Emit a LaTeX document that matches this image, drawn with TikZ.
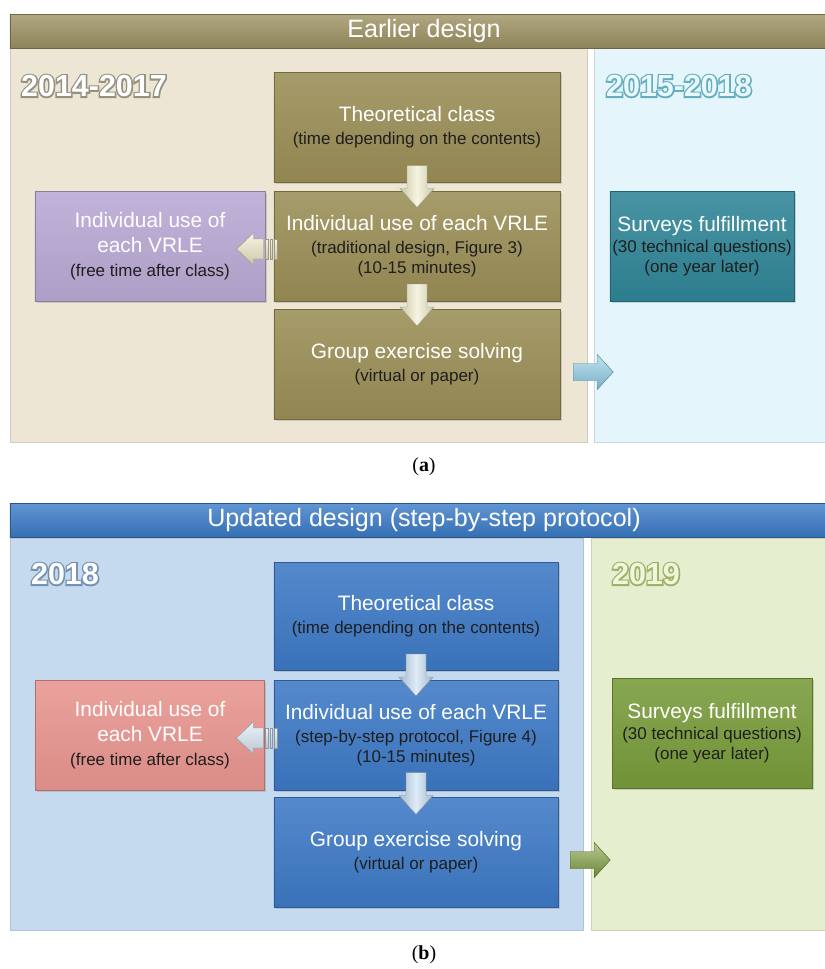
\documentclass[tikz,border=0pt]{standalone}
\usepackage{fontspec}
\setmainfont{Liberation Sans}
\newfontfamily\capfont{Liberation Serif}
\usepackage{xcolor}
\usetikzlibrary{positioning, calc, shadows}

\definecolor{olivehead}{HTML}{9D9262}
\definecolor{olivebox}{HTML}{9A8E56}
\definecolor{olivepanel}{HTML}{EDE6D4}
\definecolor{cyanpanel}{HTML}{E4F6FC}
\definecolor{lilac}{HTML}{B8A8D3}
\definecolor{tealbox}{HTML}{2F8597}
\definecolor{creamarrow}{HTML}{EFEBC9}
\definecolor{cyanarrow}{HTML}{8CCDE6}
\definecolor{bluehead}{HTML}{3A7BC8}
\definecolor{bluebox}{HTML}{3D79C5}
\definecolor{bluepanel}{HTML}{C5D9EF}
\definecolor{greenpanel}{HTML}{E5EFCF}
\definecolor{salmon}{HTML}{E8958F}
\definecolor{greenbox}{HTML}{789B3A}
\definecolor{bluearrow}{HTML}{C3DBF2}
\definecolor{greenarrow}{HTML}{7D9D3D}
\definecolor{ink}{HTML}{1E1E1E}
\definecolor{yearfillA}{HTML}{E9F8FC}
\definecolor{yearfillB}{HTML}{F0F5DE}

\newcommand\boxfont{\fontsize{17.8}{19.6}\selectfont}
\newcommand\subfont{\fontsize{14.5}{16.5}\selectfont}
\newcommand\headfont{\fontsize{21.4}{24}\selectfont}
\newcommand\yearfont{\fontsize{26}{28}\selectfont\bfseries}
\newcommand\subline[1]{{\subfont\color{ink}#1}}
% outlined year: #1 stroke colour (as "r g b"), #2 text
\newcommand\yeartext[2]{\rlap{\special{pdf:literal direct 1 Tr 2.6 w #1 RG}#2\special{pdf:literal direct 0 Tr}}#2}

\tikzset{
	panel/.style={draw=#1!75!gray, fill=#1},
	headbar/.style={draw=#1!70!black, top color=#1!80!white, bottom color=#1!90!black, minimum width=24.84cm, minimum height=1.02cm, inner sep=0pt, text=white, font=\headfont},
	flowbox/.style={draw=#1!75!black, top color=#1!88!white, bottom color=#1!94!black, minimum width=8.58cm, minimum height=3.3cm, inner sep=2pt, align=center, text=white, font=\boxfont, drop shadow={opacity=0.3, shadow xshift=1.5pt, shadow yshift=-1.5pt}},
	yearlabel/.style={font=\yearfont, text=#1},
	caption/.style={font=\capfont\fontsize{17}{19}\selectfont},
	downarrow/.pic={
		\path[draw=#1!65!black, left color=#1!85!black, right color=#1!85!black, middle color=#1!55!white]
			(-10,-21) -- (10,-21) -- (10,2) -- (17,2) -- (0,21) -- (-17,2) -- (-10,2) -- cycle;
	},
	leftarrow/.pic={
		\path[draw=#1!65!black, top color=#1!55!white, bottom color=#1!85!black]
			(-33,0) -- (-16,-16) -- (-16,-10) -- (-6,-10) -- (-6,10) -- (-16,10) -- (-16,16) -- cycle;
		\foreach \s in {-4,0.5,5}
			\path[draw=#1!65!black, top color=#1!55!white, bottom color=#1!85!black] (\s,-10) rectangle (\s+2.5,10);
	},
	rightarrow/.pic={
		\path[draw=#1!65!black, top color=#1!55!white, bottom color=#1!85!black]
			(-20,-8.5) -- (4,-8.5) -- (4,-17.5) -- (20,0) -- (4,17.5) -- (4,8.5) -- (-20,8.5) -- cycle;
	}
}

\begin{document}
\begin{tikzpicture}[x=0.03cm, y=-0.03cm]
	\useasboundingbox (0,0) rectangle (825,969);
	\fill[white] (0,0) rectangle (825,969);

	\draw[panel=olivepanel] (10,48) rectangle (587,442);
	\draw[panel=cyanpanel] (594,48) rectangle (840,442);
	\node[headbar=olivehead] (headA) at (424,31) {Earlier design};
	\node[yearlabel=white] (yearA1) at (94,86) {\yeartext{0.58 0.57 0.50}{2014-2017}};
	\node[yearlabel=yearfillA] (yearA2) at (679,86) {\yeartext{0.40 0.68 0.75}{2015-2018}};

	\node[flowbox=olivebox] (theoA) at (417,127) {Theoretical class\\\subline{(time depending on the contents)}};
	\node[flowbox=olivebox] (indivA) at (417,246) {Individual use of each VRLE\\\subline{(traditional design, Figure 3)}\\[-3pt]\subline{(10-15 minutes)}};
	\node[flowbox=olivebox] (groupA) at (417,364) {Group exercise solving\\\subline{(virtual or paper)}};
	\node[flowbox=lilac, minimum width=6.9cm] (freeA) at (150,246) {Individual use of\\[2pt]each VRLE\\[1pt]\subline{(free time after class)}};
	\node[flowbox=tealbox, minimum width=5.25cm] (surveyA) at (702,246) {Surveys fulfillment\\[-1pt]\subline{(30 technical questions)}\\[-3pt]\subline{(one year later)}};

	\pic at ($(theoA.south)!0.5!(indivA.north)$) {downarrow=creamarrow};
	\pic at ($(indivA.south)!0.5!(groupA.north)$) {downarrow=creamarrow};
	\pic at ($(freeA.east)!0.5!(indivA.west)+(0,3)$) {leftarrow=creamarrow};
	\pic at ($(groupA.east)+(33,8)$) {rightarrow=cyanarrow};

	\node[caption] (capA) at (424,467) {(\textbf{a})};

	\draw[panel=bluepanel] (10,538) rectangle (583,930);
	\draw[panel=greenpanel] (591,538) rectangle (840,930);
	\node[headbar=bluehead] (headB) at (424,520) {Updated design (step-by-step protocol)};
	\node[yearlabel=white] (yearB1) at (65,574) {\yeartext{0.45 0.57 0.71}{2018}};
	\node[yearlabel=yearfillB] (yearB2) at (646,574) {\yeartext{0.62 0.70 0.40}{2019}};

	\node[flowbox=bluebox, minimum width=8.52cm, minimum height=3.24cm] (theoB) at (416,616) {Theoretical class\\\subline{(time depending on the contents)}};
	\node[flowbox=bluebox, minimum width=8.52cm] (indivB) at (416,735) {Individual use of each VRLE\\\subline{(step-by-step protocol, Figure 4)}\\[-3pt]\subline{(10-15 minutes)}};
	\node[flowbox=bluebox, minimum width=8.52cm] (groupB) at (416,852) {Group exercise solving\\\subline{(virtual or paper)}};
	\node[flowbox=salmon, minimum width=6.87cm] (freeB) at (150,735) {Individual use of\\[2pt]each VRLE\\[1pt]\subline{(free time after class)}};
	\node[flowbox=greenbox, minimum width=6.0cm] (surveyB) at (712,733) {Surveys fulfillment\\[-1pt]\subline{(30 technical questions)}\\[-3pt]\subline{(one year later)}};

	\pic at ($(theoB.south)!0.5!(indivB.north)$) {downarrow=bluearrow};
	\pic at ($(indivB.south)!0.5!(groupB.north)$) {downarrow=bluearrow};
	\pic at ($(freeB.east)!0.5!(indivB.west)+(0,3)$) {leftarrow=bluearrow!60!white};
	\pic at ($(groupB.east)+(32,8)$) {rightarrow=greenarrow};

	\node[caption] (capB) at (424,955) {(\textbf{b})};
\end{tikzpicture}
\end{document}
